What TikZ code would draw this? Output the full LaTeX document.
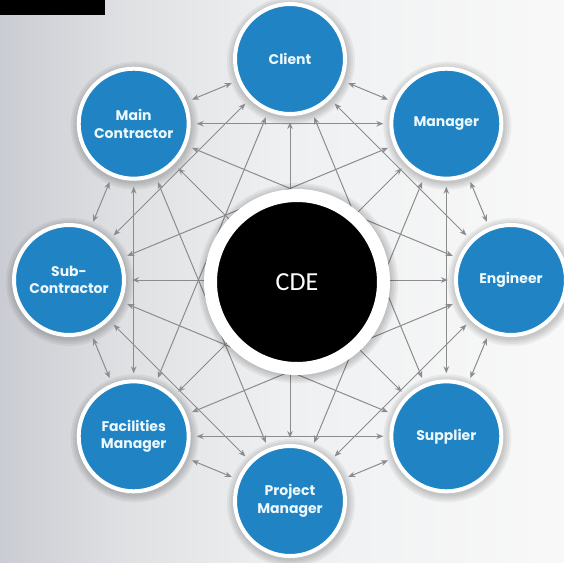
\documentclass[tikz,border=0pt]{standalone}
\usepackage{fontspec}
\setmainfont{Poppins}
\newfontfamily\cdefont{Carlito}
\usetikzlibrary{arrows.meta}
\definecolor{nodeblue}{RGB}{31,131,196}
\definecolor{txtwhite}{RGB}{236,247,252}
\definecolor{linegray}{RGB}{140,140,144}
\pgfdeclarehorizontalshading{bgshade}{100bp}{rgb(0bp)=(0.79,0.80,0.825); rgb(25bp)=(0.79,0.80,0.825); rgb(36bp)=(0.875,0.88,0.89); rgb(50bp)=(0.935,0.94,0.945); rgb(75bp)=(0.975,0.975,0.975); rgb(100bp)=(0.975,0.975,0.975)}
\tikzset{
  party/.style={circle, fill=nodeblue, draw=white, line width=4pt, minimum size=110pt,
    inner sep=0pt, outer sep=8pt, align=center, text=txtwhite,
    font=\bfseries\fontsize{14}{17.5}\selectfont},
  conn/.style={draw=linegray, line width=1pt, {Stealth[length=7pt,width=5.5pt]}-{Stealth[length=7pt,width=5.5pt]}},
  hub/.style={circle, fill=black, draw=white, line width=13pt, minimum size=173pt,
    inner sep=0pt, text=white, font=\cdefont\fontsize{26}{30}\selectfont},
  softshadow/.style={fill=black, opacity=0.05}
}
\begin{document}
\begin{tikzpicture}[x=1pt,y=-1pt]
\useasboundingbox (0,0) rectangle (564,562);
\shade[shading=bgshade] (0,0) rectangle (564,562);
\fill[black] (0,0) rectangle (105,15);
% soft shadows
\foreach \p in {(290,59),(446.3,123.7),(511,280),(446.3,436.3),(290,501),(133.7,436.3),(69,280),(133.7,123.7)}{
  \foreach \r in {58,60,62,64}{\fill[softshadow] \p ++(1,2) circle (\r);}
}
\node[party] (n0) at (290,59) {Client};
\node[party] (n1) at (446.3,123.7) {Manager};
\node[party] (n2) at (511,280) {Engineer};
\node[party] (n3) at (446.3,436.3) {Supplier};
\node[party] (n4) at (290,501) {Project\\Manager};
\node[party] (n5) at (133.7,436.3) {Facilities\\Manager};
\node[party] (n6) at (69,280) {Sub-\\Contractor};
\node[party] (n7) at (133.7,123.7) {Main\\Contractor};
\foreach \i in {0,...,6}{
  \pgfmathtruncatemacro\s{\i+1}
  \foreach \j in {\s,...,7}{\draw[conn] (n\i) -- (n\j);}
}
\foreach \r in {94,96,98,100}{\fill[softshadow] (298,283) circle (\r);}
\node[hub] (cde) at (297,282) {CDE};
\end{tikzpicture}
\end{document}
